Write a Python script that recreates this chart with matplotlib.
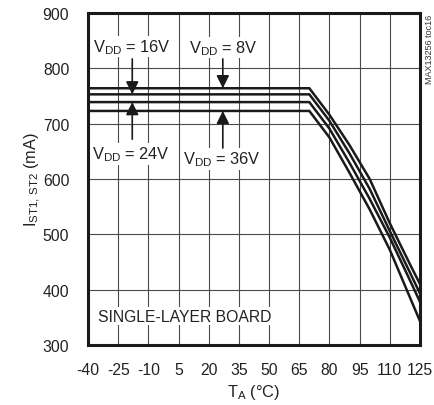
import matplotlib
matplotlib.use("Agg")
import matplotlib.pyplot as plt

fam = ['Liberation Sans', 'DejaVu Sans']
plt.rcParams['font.family'] = fam
plt.rcParams['mathtext.fontset'] = 'custom'
plt.rcParams['mathtext.rm'] = 'Liberation Sans'
plt.rcParams['mathtext.it'] = 'Liberation Sans'

# Data
temp = [-40, 70, 80, 90, 100, 110, 120, 125]
i_8v = [764, 764, 716, 661, 600, 520, 446, 410]
i_16v = [753, 753, 705, 646, 582, 506, 431, 393]
i_24v = [739, 739, 691, 629, 564, 494, 417, 378]
i_36v = [723, 723, 675, 611, 545, 472, 386, 343]
series = [("8V", i_8v), ("16V", i_16v), ("24V", i_24v), ("36V", i_36v)]

xticks = [-40, -25, -10, 5, 20, 35, 50, 65, 80, 95, 110, 125]
yticks = [300, 400, 500, 600, 700, 800, 900]

FS = 11.3
TC = '#222222'

fig = plt.figure(figsize=(4.34, 4.06), dpi=100)
ax = fig.add_axes([88/434, 1-346/406, 332/434, 332/406])

for name, vals in series:
    ax.plot(temp, vals, color='#1a1a1a', lw=1.8, solid_joinstyle='miter', zorder=3)

ax.set_xlim(-40, 125)
ax.set_ylim(300, 900)
ax.set_xticks(xticks)
ax.set_yticks(yticks)
ax.set_xticklabels([str(t) for t in xticks])
ax.grid(True, color='#4a4a4a', lw=0.8)
ax.tick_params(length=0, labelsize=FS, colors=TC)
ax.tick_params(axis='x', pad=12)
ax.tick_params(axis='y', pad=13.5)
for s in ax.spines.values():
    s.set_linewidth(2.2)
    s.set_color('#1a1a1a')

ax.set_xlabel(r'T$_{\mathrm{A}}$ (°C)', fontsize=FS + 0.5, color=TC, labelpad=4)
ax.set_ylabel(r'I$_{\mathrm{ST1,\,ST2}}$ (mA)', fontsize=FS + 0.5, color=TC)
ax.yaxis.set_label_coords(-0.137, 0.5)

def lab(txt, x, y):
    ax.text(x, y, txt, fontsize=FS + 0.5, ha='center', va='center', color=TC,
            bbox=dict(facecolor='white', edgecolor='none', pad=1), zorder=4)

lab(r'V$_{\mathrm{DD}}$ = 16V', -18.1, 840)
lab(r'V$_{\mathrm{DD}}$ = 8V', 27.1, 838)
lab(r'V$_{\mathrm{DD}}$ = 24V', -18.6, 645)
lab(r'V$_{\mathrm{DD}}$ = 36V', 26.6, 636)

ap = dict(arrowstyle='-|>', color='#1a1a1a', lw=1.2, mutation_scale=19,
          shrinkA=0, shrinkB=0)
ax.annotate('', xy=(-18, 753), xytext=(-18, 817), arrowprops=ap, zorder=5)
ax.annotate('', xy=(27, 764), xytext=(27, 817), arrowprops=ap, zorder=5)
ax.annotate('', xy=(-18, 739), xytext=(-18, 672), arrowprops=ap, zorder=5)
ax.annotate('', xy=(27, 723), xytext=(27, 656), arrowprops=ap, zorder=5)

ax.text(8.2, 352, 'SINGLE-LAYER BOARD', fontsize=FS, ha='center', va='center',
        color=TC, bbox=dict(facecolor='white', edgecolor='none', pad=1), zorder=4)

fig.text(429/434, 1-49/406, 'MAX13256 toc16', rotation=90, fontsize=6.5,
         ha='center', va='center', color='#333333')

fig.savefig('out.png', dpi=100)
